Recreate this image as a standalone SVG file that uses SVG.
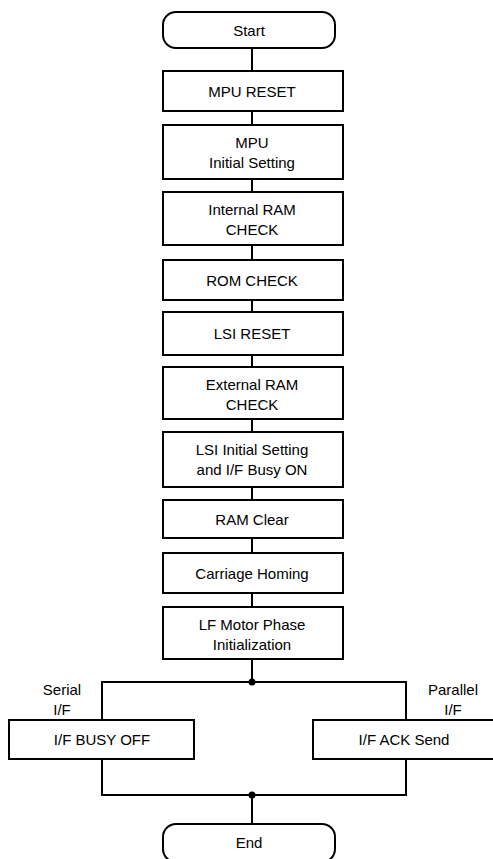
<svg xmlns="http://www.w3.org/2000/svg" width="493" height="859" viewBox="0 0 493 859">
<style>
.b{fill:#fff;stroke:#000;stroke-width:2}
.t{font-family:"Liberation Sans",Arial,sans-serif;font-size:15px;fill:#000;text-anchor:middle}
.c{fill:none;stroke:#000;stroke-width:2}
</style>
<rect width="493" height="859" fill="#fff"/>
<g id="connectors">
<path class="c" d="M252 48V71M252 111V125M252 179V192M252 245V260M252 300V312M252 355V367M252 419V432M252 487V500M252 538V553M252 593V607M252 659V682"/>
<path class="c" d="M102 720V682H406V720M102 759V795H406V759M252 795V824"/>
<circle cx="252" cy="682" r="3.5"/>
<circle cx="252" cy="795" r="3.5"/>
</g>
<g id="start"><rect class="b" x="163" y="12" width="172" height="36" rx="13"/><text class="t" x="249" y="36">Start</text></g>
<g id="mpu-reset"><rect class="b" x="163" y="71" width="180" height="40"/><text class="t" x="252" y="97">MPU RESET</text></g>
<g id="mpu-initial"><rect class="b" x="163" y="125" width="180" height="54"/><text class="t" x="252" y="148">MPU</text><text class="t" x="252" y="168">Initial Setting</text></g>
<g id="internal-ram"><rect class="b" x="163" y="192" width="180" height="53"/><text class="t" x="252" y="215">Internal RAM</text><text class="t" x="252" y="235">CHECK</text></g>
<g id="rom-check"><rect class="b" x="163" y="260" width="180" height="40"/><text class="t" x="252" y="286">ROM CHECK</text></g>
<g id="lsi-reset"><rect class="b" x="163" y="312" width="180" height="43"/><text class="t" x="252" y="339">LSI RESET</text></g>
<g id="external-ram"><rect class="b" x="163" y="367" width="180" height="52"/><text class="t" x="252" y="390">External RAM</text><text class="t" x="252" y="410">CHECK</text></g>
<g id="lsi-initial"><rect class="b" x="163" y="432" width="180" height="55"/><text class="t" x="252" y="455">LSI Initial Setting</text><text class="t" x="252" y="475">and I/F Busy ON</text></g>
<g id="ram-clear"><rect class="b" x="163" y="500" width="180" height="38"/><text class="t" x="252" y="525">RAM Clear</text></g>
<g id="carriage-homing"><rect class="b" x="163" y="553" width="180" height="40"/><text class="t" x="252" y="579">Carriage Homing</text></g>
<g id="lf-motor"><rect class="b" x="163" y="607" width="180" height="52"/><text class="t" x="252" y="630">LF Motor Phase</text><text class="t" x="252" y="650">Initialization</text></g>
<g id="serial-label"><text class="t" x="62" y="695">Serial</text><text class="t" x="62" y="715">I/F</text></g>
<g id="parallel-label"><text class="t" x="453" y="695">Parallel</text><text class="t" x="453" y="715">I/F</text></g>
<g id="busy-off"><rect class="b" x="9" y="720" width="185" height="39"/><text class="t" x="102" y="745">I/F BUSY OFF</text></g>
<g id="ack-send"><rect class="b" x="313" y="720" width="184" height="39"/><text class="t" x="404" y="745">I/F ACK Send</text></g>
<g id="end"><rect class="b" x="163" y="824" width="172" height="38" rx="13"/><text class="t" x="249" y="848">End</text></g>
</svg>
